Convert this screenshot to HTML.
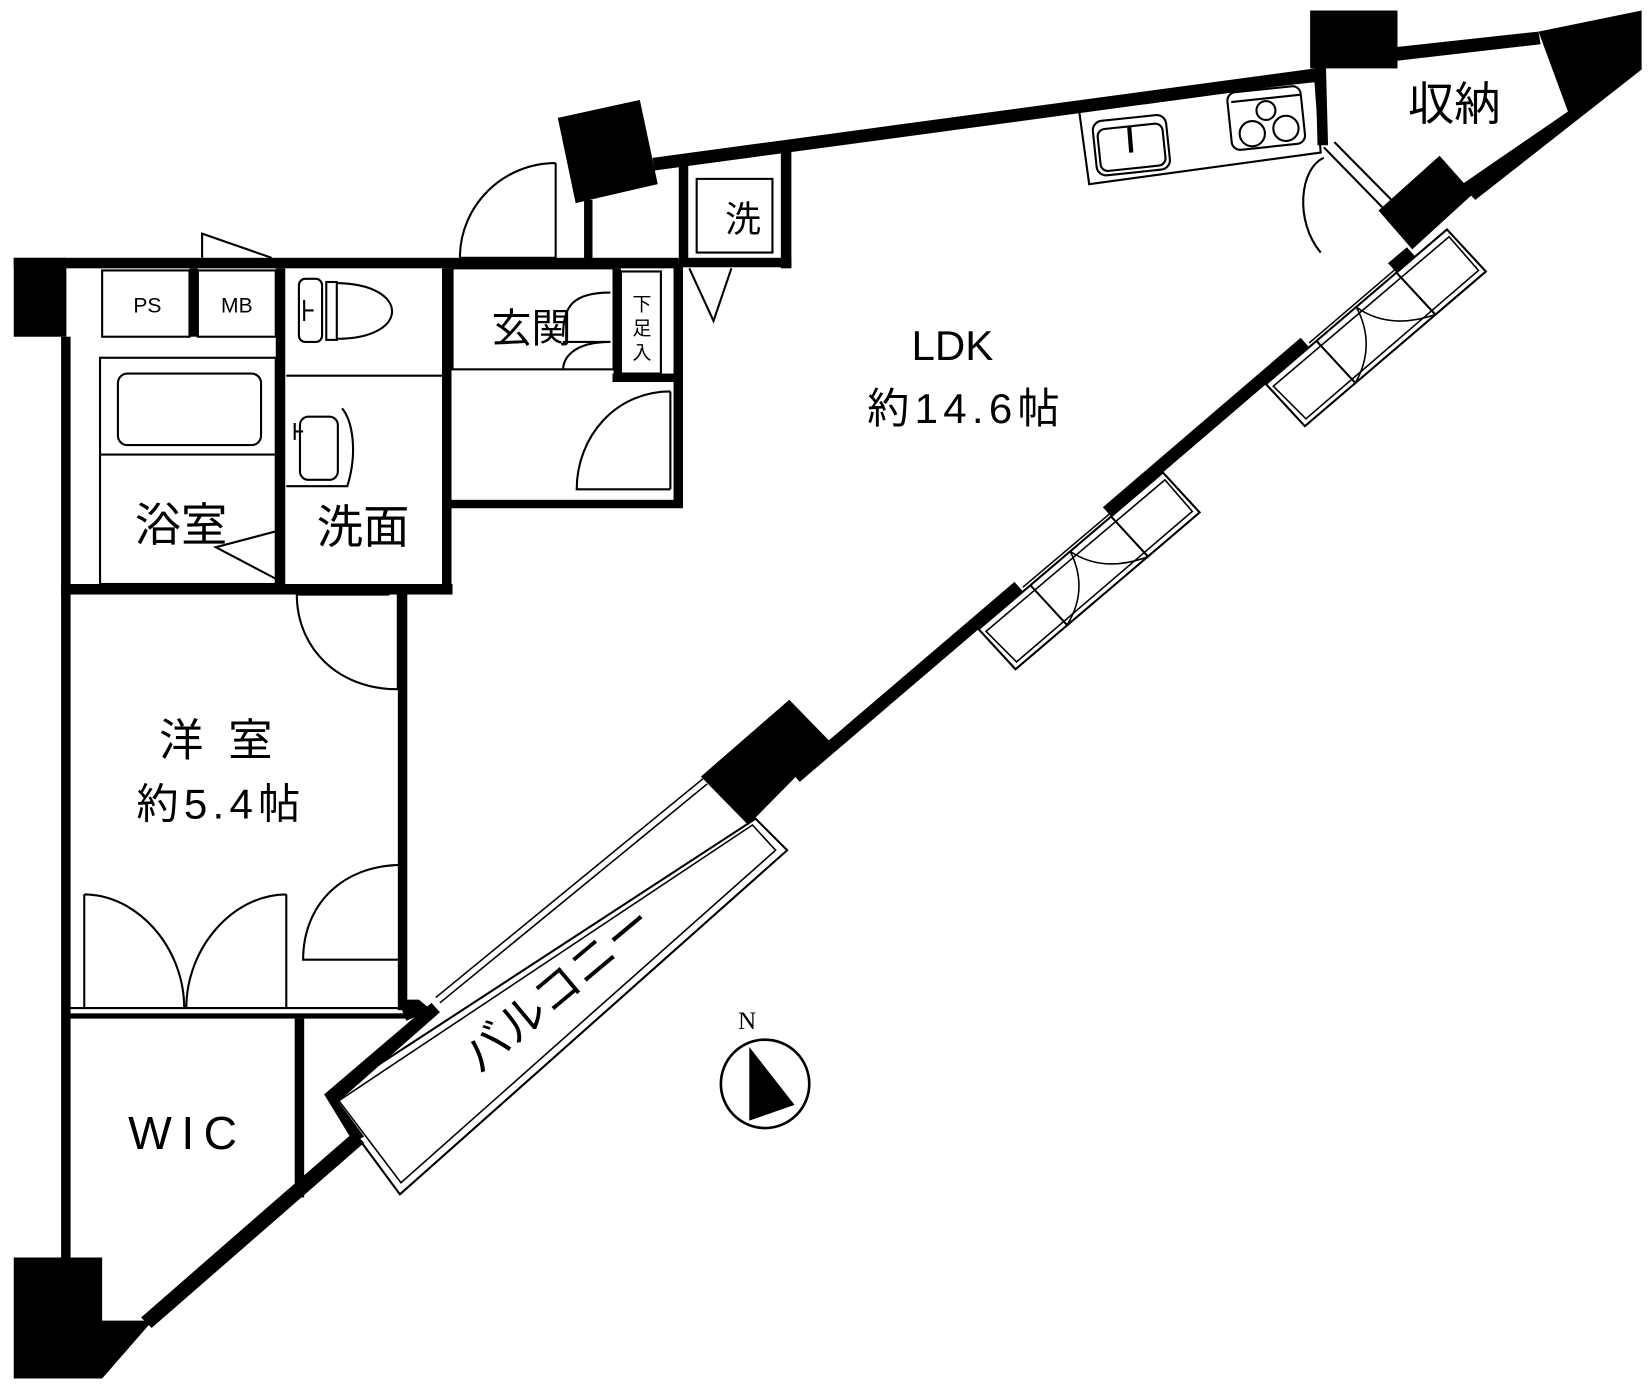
<!DOCTYPE html>
<html><head><meta charset="utf-8"><style>
html,body{margin:0;padding:0;background:#fff}
svg{display:block}
text{font-family:"Liberation Sans","Noto Sans CJK JP",sans-serif;fill:#000}
</style></head><body>
<svg width="1648" height="1389" viewBox="0 0 1566 1320" xmlns="http://www.w3.org/2000/svg">
<g fill="#000">
<rect x="13" y="245" width="50" height="75"/>
<rect x="13" y="245" width="632" height="10"/>
<rect x="58" y="320" width="9" height="880"/>
<rect x="180" y="255" width="8" height="65"/>
<rect x="262" y="255" width="9" height="300"/>
<rect x="420" y="255" width="9" height="310"/>
<rect x="58" y="555" width="372" height="10"/>
<rect x="640" y="250" width="9" height="232"/>
<rect x="425" y="475" width="224" height="8"/>
<rect x="582" y="355" width="66" height="8"/>
<rect x="583" y="255" width="7" height="105"/>
<rect x="555" y="190" width="8" height="62"/>
<rect x="645" y="148" width="9" height="105"/>
<rect x="742" y="138" width="10" height="117"/>
<rect x="648" y="245" width="104" height="9"/>
<polygon points="530,112 608,95 625,175 547,193"/>
<polygon points="620,150 1250,65 1252,77 622,162"/>
<rect x="1245" y="10" width="83" height="55"/>
<polygon points="1325,45 1462,30 1464,42 1325,58"/>
<polygon points="1462,30 1560,10 1560,66 1402,190 1388,176 1490,106"/>
<polygon points="1250,62 1260,62 1262,138 1252,138"/>
<polygon points="1310,200 1368,148 1400,184 1342,237"/>
<!-- diagonal wall segments -->
<polygon points="1345,244 1327,259 1319,250 1337,235"/>
<polygon points="1244,330 1056,491 1048,482 1236,321"/>
<polygon points="972,562 760,743 752,734 964,553"/>
<polygon points="666,738 750,665 789,705 711,784"/>
<polygon points="410,953 418,962 318,1050 308,1040"/>
<polygon points="308,1040 318,1042 346,1080 336,1086"/>
<polygon points="336,1076 346,1086 144,1262 134,1252"/>
<polygon points="378,950 398,950 410,960 386,970"/>
<polygon points="13,1195 97,1195 97,1255 145,1255 97,1310 13,1310"/>
<rect x="378" y="565" width="9" height="395"/>
<rect x="280" y="968" width="9" height="170"/>
<rect x="66" y="963" width="322" height="5"/>
</g>
<g fill="none" stroke="#000" stroke-width="2">
<rect x="97" y="257" width="83" height="63"/>
<rect x="188" y="257" width="74" height="63"/>
<rect x="95" y="340" width="167" height="215"/>
<rect x="112" y="355" width="136" height="68" rx="9"/>
<line x1="95" y1="432" x2="262" y2="432"/>
<polyline points="262,505 205,520 262,550"/>
<rect x="263" y="455" width="6" height="97"/>
<rect x="284" y="265" width="22" height="60" rx="6"/>
<rect x="310" y="268" width="10" height="55"/>
<path d="M320,269 C390,270 390,322 320,322"/>
<line x1="272" y1="357" x2="420" y2="357"/>
<path d="M289,295 L298,295 M289,285 L289,305"/>
<rect x="285" y="396" width="36" height="60" rx="8"/>
<path d="M272,462 L330,462 C340,430 335,400 325,388"/>
<path d="M280,410 L288,410 M280,402 L280,418"/>
<rect x="422" y="400" width="5" height="150"/>
<rect x="430" y="255" width="153" height="96"/>
<rect x="590" y="258" width="38" height="97"/>
<path d="M580,278 C545,278 535,290 535,320 M580,325 C545,325 535,340 535,352"/>
<line x1="535" y1="325" x2="580" y2="325"/>
<path d="M637,372 C585,372 548,415 548,465 L637,465 M637,372 L637,465"/>
<line x1="642" y1="390" x2="642" y2="470"/>
<path d="M528,155 C478,155 437,195 437,245 M528,155 L528,245"/>
<line x1="437" y1="245" x2="528" y2="245"/>
<path d="M192,245 L192,222 L258,245"/>
<rect x="662" y="170" width="72" height="70"/>
<polyline points="655,255 678,305 695,255"/>
<polygon points="1025,102 1250,77 1255,145 1035,175"/>
<rect x="1040" y="112" width="70" height="52" rx="9" transform="rotate(-6 1075 137)"/>
<rect x="1044" y="120" width="62" height="40" rx="7" transform="rotate(-6 1075 137)"/>
<line x1="1073" y1="120" x2="1075" y2="145" stroke-width="4"/>
<rect x="1168" y="85" width="70" height="55" rx="8" transform="rotate(-6 1200 110)"/>
<line x1="1170" y1="97" x2="1236" y2="90"/>
<circle cx="1203" cy="105" r="9"/><circle cx="1190" cy="127" r="12"/><circle cx="1222" cy="122" r="12"/>
<path d="M1258,150 C1235,160 1230,210 1255,240"/>
<polyline points="1258,140 1338,222"/><polyline points="1268,135 1346,214"/>
<!-- window group 2 -->
<polygon points="1203,365 1375,218 1412,258 1240,405"/>
<polygon points="1210,367 1377,225 1405,257 1241,398" stroke-width="1.5"/>
<line x1="1244" y1="326" x2="1327" y2="255" stroke-width="1.5"/>
<line x1="1251" y1="324" x2="1288" y2="364"/>
<line x1="1327" y1="259" x2="1364" y2="299"/>
<path d="M1289,292 Q1308,328 1288,364 M1289,292 Q1320,314 1364,299" stroke-width="1.5"/>
<!-- window group 1 -->
<polygon points="930,598 1105,449 1140,487 965,636"/>
<polygon points="937,600 1107,456 1133,486 966,629" stroke-width="1.5"/>
<line x1="972" y1="558" x2="1056" y2="487" stroke-width="1.5"/>
<line x1="979" y1="556" x2="1014" y2="594"/>
<line x1="1056" y1="491" x2="1091" y2="529"/>
<path d="M1017,524 Q1035,560 1014,594 M1017,524 Q1048,545 1091,529" stroke-width="1.5"/>
<!-- balcony -->
<polygon points="312,1043 380,1135 748,808 718,778"/>
<polygon points="322,1046 381,1124 737,808 715,784" stroke-width="1.5"/>
<line x1="414" y1="948" x2="668" y2="740" stroke-width="1.5"/>
<line x1="418" y1="953" x2="672" y2="745" stroke-width="1.5"/>
<path d="M378,565 L378,655 C320,655 282,615 282,565"/>
<line x1="282" y1="565" x2="370" y2="565"/>
<path d="M382,822 C325,822 288,860 288,912 L382,912"/>
<line x1="382" y1="822" x2="382" y2="945"/>
<path d="M80,850 C130,850 175,900 175,958 M272,850 C222,850 177,900 177,958"/>
<line x1="80" y1="850" x2="80" y2="958"/><line x1="272" y1="850" x2="272" y2="958"/>
<line x1="66" y1="958" x2="380" y2="958"/>
<circle cx="727" cy="1030" r="42" stroke-width="2.5"/>
</g>
<polygon points="712,995 712,1065 755,1050" fill="#000"/>
<text x="710" y="978" font-size="24" text-anchor="middle" style="font-family:'Liberation Serif',serif">N</text>
<g text-anchor="middle">
<text x="140" y="297" font-size="20">PS</text>
<text x="225" y="297" font-size="20">MB</text>
<text x="172" y="514" font-size="44">浴室</text>
<text x="345" y="516" font-size="44">洗面</text>
<text x="505" y="325" font-size="38">玄関</text>
<text x="610" y="295" font-size="18">下</text>
<text x="610" y="318" font-size="18">足</text>
<text x="610" y="341" font-size="18">入</text>
<text x="706" y="220" font-size="34">洗</text>
<text x="1382" y="114" font-size="44">収納</text>
<text x="905" y="342" font-size="40">LDK</text>
<text x="918" y="402" font-size="40" letter-spacing="5">約14.6帖</text>
<text x="208" y="718" font-size="42" letter-spacing="6">洋 室</text>
<text x="210" y="778" font-size="40" letter-spacing="5">約5.4帖</text>
<text x="178" y="1092" font-size="44" letter-spacing="9">WIC</text>
<text x="530" y="955" font-size="44" transform="rotate(-40 530 940)">バルコニー</text>
</g>
</svg>
</body></html>
